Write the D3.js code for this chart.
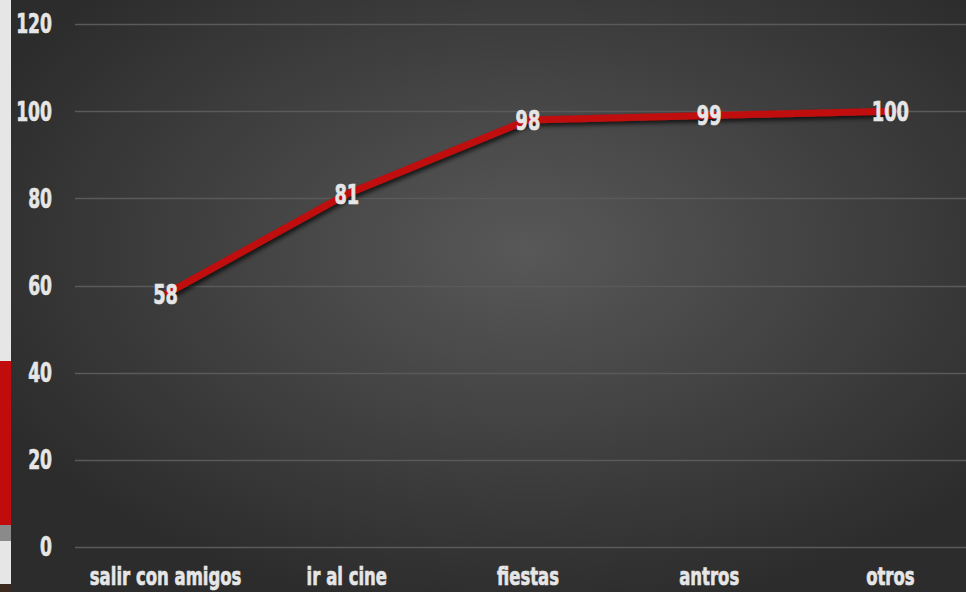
<!DOCTYPE html>
<html>
<head>
<meta charset="utf-8">
<script src="https://cdn.jsdelivr.net/npm/d3@7/dist/d3.min.js"></script>
<style>
  html, body { margin: 0; padding: 0; background: #2e2e2e; overflow: hidden; }
  svg { display: block; }
  .lbl { font-family: Impact, "DejaVu Sans", sans-serif; font-weight: bold; fill: #e6e6e6; stroke: #e6e6e6; stroke-width: 0.7px; }
</style>
</head>
<body>
<svg id="chart" width="966" height="592"></svg>
<script>
var categories = ['salir con amigos', 'ir al cine', 'fiestas', 'antros', 'otros'];
var values = [58, 81, 98, 99, 100];
var yTicks = [0, 20, 40, 60, 80, 100, 120];

var W = 966, H = 592;
var squeeze = 0.66; // fake a condensed face
var svg = d3.select('#chart');
var defs = svg.append('defs');

// radial background, lighter in the middle
var grad = defs.append('radialGradient')
  .attr('id', 'bg')
  .attr('cx', '0.54').attr('cy', '0.42').attr('r', '0.62');
grad.append('stop').attr('offset', '0%').attr('stop-color', '#585858');
grad.append('stop').attr('offset', '100%').attr('stop-color', '#2c2c2c');

var shadow = defs.append('filter').attr('id', 'shadow')
  .attr('x', '-10%').attr('y', '-10%').attr('width', '120%').attr('height', '130%');
shadow.append('feDropShadow')
  .attr('dx', 2).attr('dy', 3).attr('stdDeviation', 2)
  .attr('flood-color', '#000').attr('flood-opacity', 0.7);

// left strip (slide edge)
svg.append('rect').attr('x', 0).attr('y', 0).attr('width', 11).attr('height', H).attr('fill', '#e6e6e6');
svg.append('rect').attr('x', 0).attr('y', 361).attr('width', 11).attr('height', 164).attr('fill', '#c00c0c');
svg.append('rect').attr('x', 0).attr('y', 525).attr('width', 11).attr('height', 16).attr('fill', '#8a8a8a');
svg.append('rect').attr('x', 0).attr('y', 584).attr('width', 11).attr('height', 8).attr('fill', '#3a2a20');

svg.append('rect').attr('x', 11).attr('y', 0).attr('width', W - 11).attr('height', H).attr('fill', 'url(#bg)');

var x = d3.scaleBand().domain(categories).range([75, 981]);
var y = d3.scaleLinear().domain([0, 120]).range([547, 24]);

function place(tx, ty) {
  return 'translate(' + tx + ',' + ty + ') scale(' + squeeze + ',1)';
}

// gridlines
svg.append('g').selectAll('line').data(yTicks).enter().append('line')
  .attr('x1', 75).attr('x2', W)
  .attr('y1', function(d) { return Math.round(y(d)) + 0.5; })
  .attr('y2', function(d) { return Math.round(y(d)) + 0.5; })
  .attr('stroke', '#5a5a5a').attr('stroke-width', 1.5);

// y labels
svg.append('g').selectAll('text').data(yTicks).enter().append('text')
  .attr('class', 'lbl')
  .attr('transform', function(d) { return place(52, y(d)); })
  .attr('dy', '0.36em')
  .attr('text-anchor', 'end')
  .attr('font-size', 26)
  .text(function(d) { return d; });

// x labels
svg.append('g').selectAll('text').data(categories).enter().append('text')
  .attr('class', 'lbl')
  .attr('transform', function(d) { return place(x(d) + x.bandwidth() / 2, 585); })
  .attr('text-anchor', 'middle')
  .attr('font-size', 25)
  .text(function(d) { return d; });

var line = d3.line()
  .x(function(d, i) { return x(categories[i]) + x.bandwidth() / 2; })
  .y(function(d) { return y(d); });

svg.append('path').datum(values)
  .attr('d', line)
  .attr('fill', 'none')
  .attr('stroke', '#c00d0d')
  .attr('stroke-width', 7)
  .attr('stroke-linejoin', 'round')
  .attr('filter', 'url(#shadow)');

// data labels
svg.append('g').selectAll('text').data(values).enter().append('text')
  .attr('class', 'lbl')
  .attr('transform', function(d, i) { return place(x(categories[i]) + x.bandwidth() / 2, y(d)); })
  .attr('dy', '0.36em')
  .attr('text-anchor', 'middle')
  .attr('font-size', 27)
  .text(function(d) { return d; });
</script>
</body>
</html>
